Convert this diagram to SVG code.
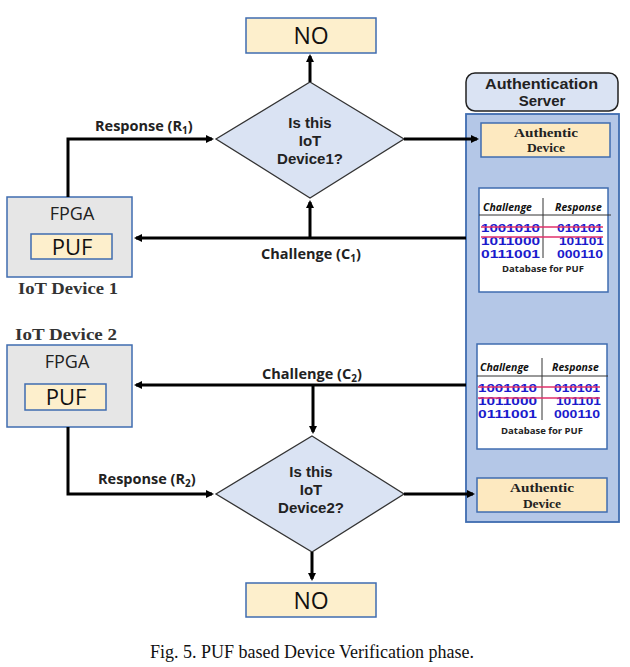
<svg xmlns="http://www.w3.org/2000/svg" width="630" height="667" viewBox="0 0 630 667">
<style>
.sans{font-family:"Open Sans","Liberation Sans",sans-serif}
.serif{font-family:"Liberation Serif","DejaVu Serif",serif}
.lbl{font-family:"Open Sans","Liberation Sans",sans-serif;font-weight:bold;font-size:14.5px;fill:#222}
.dq{font-family:"Liberation Sans","Open Sans",sans-serif;font-weight:bold;font-size:15px;fill:#222}
.hdr{font-family:"Liberation Sans","Open Sans",sans-serif;font-weight:bold;font-size:15px;fill:#222}
.ad{font-family:"Liberation Serif","DejaVu Serif",serif;font-weight:bold;font-size:13.5px;fill:#222}
.dia{fill:#dae3f3;stroke:#333;stroke-width:1.3}
.nobox{fill:#fdefcc;stroke:#3f6cb0;stroke-width:1.5}
.fpga{fill:#e6e6e6;stroke:#3f6cb0;stroke-width:1.5}
.puf{fill:#fdefcc;stroke:#3f6cb0;stroke-width:1.5}
.conn{fill:none;stroke:#000;stroke-width:3}
.db{fill:#fff;stroke:#3f6cb0;stroke-width:1.5}
.num{font-family:"Liberation Sans","Open Sans",sans-serif;font-weight:bold;font-size:11.5px;fill:#1a1acc}
.hd{font-family:"Open Sans","Liberation Sans",sans-serif;font-weight:bold;font-style:italic;font-size:10.5px;fill:#111}
.strike{stroke:#e0306a;stroke-width:1.3}
</style>
<defs>
<marker id="ah" markerWidth="8" markerHeight="8" refX="6" refY="4" orient="auto" markerUnits="userSpaceOnUse">
<path d="M0,0 L8,4 L0,8 Z" fill="#000"/>
</marker>
</defs>
<rect width="630" height="667" fill="#fff"/>

<g id="server">
<rect x="466" y="114" width="153" height="408" fill="#b4c7e7" stroke="#3f6cb0" stroke-width="1.8"/>
<rect x="466" y="73" width="152" height="38" rx="9" fill="#dae3f3" stroke="#222" stroke-width="1.5"/>
<text class="hdr" x="485" y="89" textLength="113" lengthAdjust="spacingAndGlyphs">Authentication</text>
<text class="hdr" x="542" y="106" text-anchor="middle">Server</text>
</g>

<g id="auth1">
<rect x="481" y="123" width="129" height="34" fill="#fde9c0" stroke="#3f6cb0" stroke-width="1.5"/>
<text class="ad" x="514" y="137" textLength="64" lengthAdjust="spacingAndGlyphs">Authentic</text>
<text class="ad" x="546" y="152" text-anchor="middle">Device</text>
</g>

<g id="db1">
<rect class="db" x="479" y="188" width="129" height="104"/>
<line x1="543" y1="198" x2="543" y2="258" stroke="#333" stroke-width="1"/>
<line x1="479" y1="215" x2="611" y2="215" stroke="#333" stroke-width="1"/>
<text class="hd" x="483" y="211">Challenge</text>
<text class="hd" x="555" y="211">Response</text>
<text class="num" x="481" y="232" textLength="59" lengthAdjust="spacingAndGlyphs">1001010</text>
<text class="num" x="557" y="232" textLength="46" lengthAdjust="spacingAndGlyphs">010101</text>
<text class="num" x="481" y="245" textLength="59" lengthAdjust="spacingAndGlyphs">1011000</text>
<text class="num" x="559" y="245" textLength="45" lengthAdjust="spacingAndGlyphs">101101</text>
<text class="num" x="481" y="258" textLength="59" lengthAdjust="spacingAndGlyphs">0111001</text>
<text class="num" x="557" y="258" textLength="46" lengthAdjust="spacingAndGlyphs">000110</text>
<line class="strike" x1="481" y1="227" x2="603" y2="227"/>
<line class="strike" x1="481" y1="237" x2="603" y2="237"/>
<text class="sans" x="543" y="272" text-anchor="middle" font-size="9.5" font-weight="bold" fill="#222">Database for PUF</text>
</g>

<g id="db2">
<rect class="db" x="477" y="344" width="130" height="105"/>
<line x1="542" y1="358" x2="542" y2="420" stroke="#333" stroke-width="1"/>
<line x1="477" y1="376" x2="608" y2="376" stroke="#333" stroke-width="1"/>
<text class="hd" x="480" y="371">Challenge</text>
<text class="hd" x="552" y="371">Response</text>
<text class="num" x="478" y="392" textLength="59" lengthAdjust="spacingAndGlyphs">1001010</text>
<text class="num" x="554" y="392" textLength="46" lengthAdjust="spacingAndGlyphs">010101</text>
<text class="num" x="478" y="405" textLength="59" lengthAdjust="spacingAndGlyphs">1011000</text>
<text class="num" x="556" y="405" textLength="45" lengthAdjust="spacingAndGlyphs">101101</text>
<text class="num" x="478" y="418" textLength="59" lengthAdjust="spacingAndGlyphs">0111001</text>
<text class="num" x="554" y="418" textLength="46" lengthAdjust="spacingAndGlyphs">000110</text>
<line class="strike" x1="478" y1="387" x2="600" y2="387"/>
<line class="strike" x1="478" y1="398" x2="600" y2="398"/>
<text class="sans" x="542" y="434" text-anchor="middle" font-size="9.5" font-weight="bold" fill="#222">Database for PUF</text>
</g>

<g id="auth2">
<rect x="477" y="478" width="130" height="34" fill="#fde9c0" stroke="#3f6cb0" stroke-width="1.5"/>
<text class="ad" x="510" y="492" textLength="64" lengthAdjust="spacingAndGlyphs">Authentic</text>
<text class="ad" x="542" y="508" text-anchor="middle">Device</text>
</g>

<g id="no1">
<rect class="nobox" x="246" y="18" width="130" height="35"/>
<text class="sans" x="311" y="44" text-anchor="middle" font-size="23" fill="#111">NO</text>
</g>

<g id="no2">
<rect class="nobox" x="246" y="583" width="130" height="34"/>
<text class="sans" x="311" y="609" text-anchor="middle" font-size="23" fill="#111">NO</text>
</g>

<g id="decision1">
<polygon class="dia" points="310,82 404,139 310,198 216,139"/>
<text class="dq" x="310" y="128" text-anchor="middle">Is this</text>
<text class="dq" x="310" y="146" text-anchor="middle">IoT</text>
<text class="dq" x="310" y="164" text-anchor="middle">Device1?</text>
</g>

<g id="decision2">
<polygon class="dia" points="312,436 404,494 312,552 216,494"/>
<text class="dq" x="311" y="477" text-anchor="middle">Is this</text>
<text class="dq" x="311" y="495" text-anchor="middle">IoT</text>
<text class="dq" x="311" y="513" text-anchor="middle">Device2?</text>
</g>

<g id="device1">
<rect class="fpga" x="7" y="197" width="125" height="80"/>
<text class="sans" x="72" y="220" text-anchor="middle" font-size="18" fill="#222">FPGA</text>
<rect class="puf" x="31" y="234" width="81" height="25"/>
<text class="sans" x="72" y="255" text-anchor="middle" font-size="22" fill="#111">PUF</text>
<text class="serif" x="18" y="294" font-size="17" font-weight="bold" fill="#333" textLength="100" lengthAdjust="spacingAndGlyphs">IoT Device 1</text>
</g>

<g id="device2">
<text class="serif" x="15" y="340" font-size="17" font-weight="bold" fill="#333" textLength="102" lengthAdjust="spacingAndGlyphs">IoT Device 2</text>
<rect class="fpga" x="7" y="345" width="125" height="82"/>
<text class="sans" x="67" y="368" text-anchor="middle" font-size="18" fill="#222">FPGA</text>
<rect class="puf" x="25" y="384" width="81" height="26"/>
<text class="sans" x="66" y="405" text-anchor="middle" font-size="22" fill="#111">PUF</text>
</g>

<g id="connectors">
<path class="conn" d="M310,82 L310,56" marker-end="url(#ah)"/>
<path class="conn" d="M404,139 L477,139" stroke-width="2.5" marker-end="url(#ah)"/>
<path class="conn" d="M68,197 L68,139 L212,139" marker-end="url(#ah)"/>
<path class="conn" d="M466,238 L136,238" marker-end="url(#ah)"/>
<path class="conn" d="M310,238 L310,202" marker-end="url(#ah)"/>
<path class="conn" d="M466,385 L136,385" marker-end="url(#ah)"/>
<path class="conn" d="M313,385 L313,432" marker-end="url(#ah)"/>
<path class="conn" d="M68,427 L68,494 L212,494" marker-end="url(#ah)"/>
<path class="conn" d="M404,494 L473,494" stroke-width="2.5" marker-end="url(#ah)"/>
<path class="conn" d="M312,552 L312,579" marker-end="url(#ah)"/>
<text class="lbl" x="95" y="131">Response (R<tspan font-size="10" dy="3">1</tspan><tspan dy="-3">)</tspan></text>
<text class="lbl" x="261" y="259">Challenge (C<tspan font-size="10" dy="3">1</tspan><tspan dy="-3">)</tspan></text>
<text class="lbl" x="262" y="379">Challenge (C<tspan font-size="10" dy="3">2</tspan><tspan dy="-3">)</tspan></text>
<text class="lbl" x="98" y="484">Response (R<tspan font-size="10" dy="3">2</tspan><tspan dy="-3">)</tspan></text>
</g>

<text class="serif" x="312" y="658" text-anchor="middle" font-size="18" fill="#111">Fig. 5. PUF based Device Verification phase.</text>
</svg>
